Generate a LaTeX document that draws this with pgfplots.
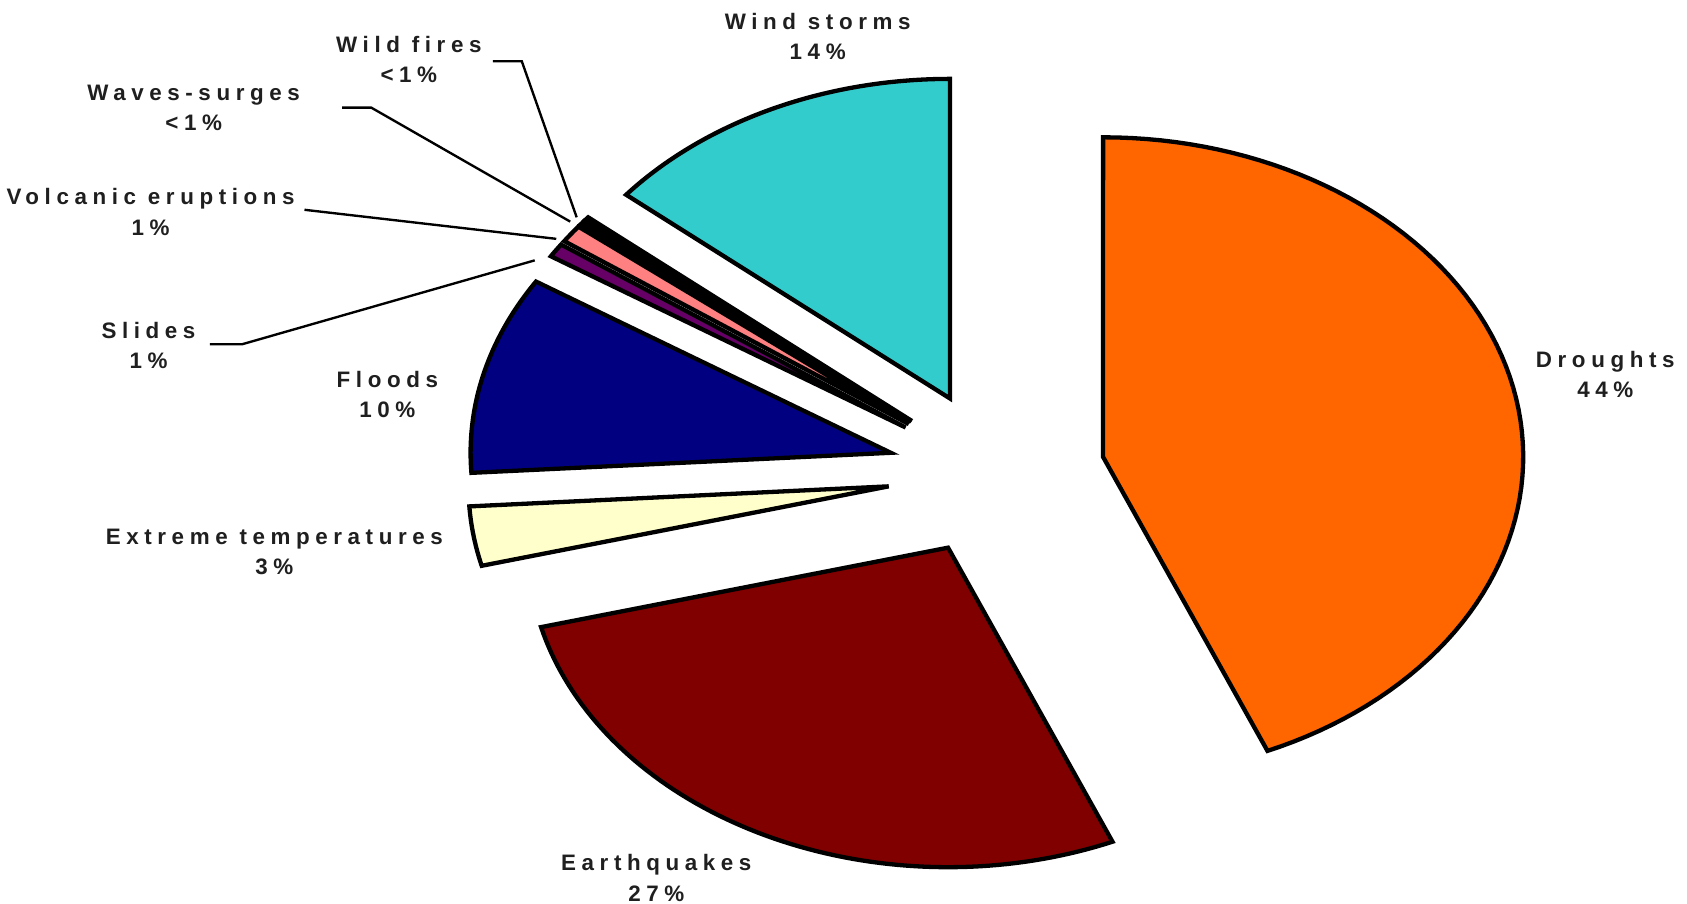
\documentclass[border=0pt]{standalone}
\usepackage{pgfplots}
\pgfplotsset{compat=1.18}
\usepackage{fontspec}
\setmainfont{Liberation Sans}
\newfontfamily\labfont[LetterSpace=25]{Liberation Sans}
\definecolor{cDr}{HTML}{FF6600}
\definecolor{cEq}{HTML}{800000}
\definecolor{cEx}{HTML}{FFFFCC}
\definecolor{cFl}{HTML}{000080}
\definecolor{cSl}{HTML}{660066}
\definecolor{cVo}{HTML}{FF8080}
\definecolor{cWa}{HTML}{0066CC}
\definecolor{cWi}{HTML}{CCCCFF}
\definecolor{cWs}{HTML}{33CCCC}
% shares (percent), clockwise from 12 o'clock
\def\vDr{43.6}\def\vEq{27.4}\def\vEx{3}\def\vFl{10}\def\vSl{0.7}\def\vVo{0.9}\def\vWa{0.2}\def\vWi{0.2}\def\vWs{14}
\pgfmathsetmacro\tot{\vDr+\vEq+\vEx+\vFl+\vSl+\vVo+\vWa+\vWi+\vWs}
\pgfmathsetmacro\aA{90}
\pgfmathsetmacro\aB{\aA-360*\vDr/\tot}
\pgfmathsetmacro\aC{\aB-360*\vEq/\tot}
\pgfmathsetmacro\aD{\aC-360*\vEx/\tot}
\pgfmathsetmacro\aE{\aD-360*\vFl/\tot}
\pgfmathsetmacro\aF{\aE-360*\vSl/\tot}
\pgfmathsetmacro\aG{\aF-360*\vVo/\tot}
\pgfmathsetmacro\aH{\aG-360*\vWa/\tot}
\pgfmathsetmacro\aI{\aH-360*\vWi/\tot}
\pgfmathsetmacro\aJ{\aI-360*\vWs/\tot}
% geometry
\def\Cx{926}\def\Cy{400}\def\R{297}\def\Asp{1.315}\def\Ex{77}
\pgfmathsetmacro\Rx{\Asp*\R}
\newcommand\slice[3]{%
  \pgfmathsetmacro\mid{(#1+#2)/2}%
  \pgfmathsetmacro\cx{\Cx+\Asp*\Ex*cos(\mid)}%
  \pgfmathsetmacro\cy{\Cy+\Ex*sin(\mid)}%
  \edef\tmp{\noexpand\addplot[draw=black,line width=2pt,fill=#3,domain=#1:#2,samples=80,line join=miter]
    ({\cx+\Rx*cos(x)},{\cy+\R*sin(x)}) -- (axis cs:\cx,\cy) -- cycle;}%
  \tmp}
\tikzset{lab/.style={font=\labfont\bfseries\fontsize{10.4}{14}\selectfont, align=center, text=black!88, inner sep=0pt}}
\begin{document}
\begin{tikzpicture}
\begin{axis}[
  scale only axis, width=784pt, height=420pt,
  xmin=0, xmax=1568, ymin=0, ymax=840,
  hide axis, clip=false
]
\path (axis cs:0,0) rectangle (axis cs:1568,840);
\slice{\aB}{\aA}{cDr}
\slice{\aC}{\aB}{cEq}
\slice{\aD}{\aC}{cEx}
\slice{\aE}{\aD}{cFl}
\slice{\aF}{\aE}{cSl}
\slice{\aG}{\aF}{cVo}
\slice{\aH}{\aG}{cWa}
\slice{\aI}{\aH}{cWi}
\slice{\aJ}{\aI}{cWs}
% leader lines
\addplot[black, line width=1.1pt, mark=none] coordinates {(458,783) (485,783) (536,638)};
\addplot[black, line width=1.1pt, mark=none] coordinates {(318,740) (345,740) (530,634)};
\addplot[black, line width=1.1pt, mark=none] coordinates {(283,645) (517,618)};
\addplot[black, line width=1.1pt, mark=none] coordinates {(195,520) (225,520) (497,598)};
% labels
\node[lab] at (axis cs:760,806) {Wind storms\\14\%};
\node[lab] at (axis cs:380,785) {Wild fires\\<1\%};
\node[lab] at (axis cs:180,740) {Waves-surges\\<1\%};
\node[lab] at (axis cs:140,643) {Volcanic eruptions\\1\%};
\node[lab] at (axis cs:138,519) {Slides\\1\%};
\node[lab] at (axis cs:360,473) {Floods\\10\%};
\node[lab] at (axis cs:255,327) {Extreme temperatures\\3\%};
\node[lab] at (axis cs:610,24) {Earthquakes\\27\%};
\node[lab] at (axis cs:1492,492) {Droughts\\44\%};
\end{axis}
\end{tikzpicture}
\end{document}
